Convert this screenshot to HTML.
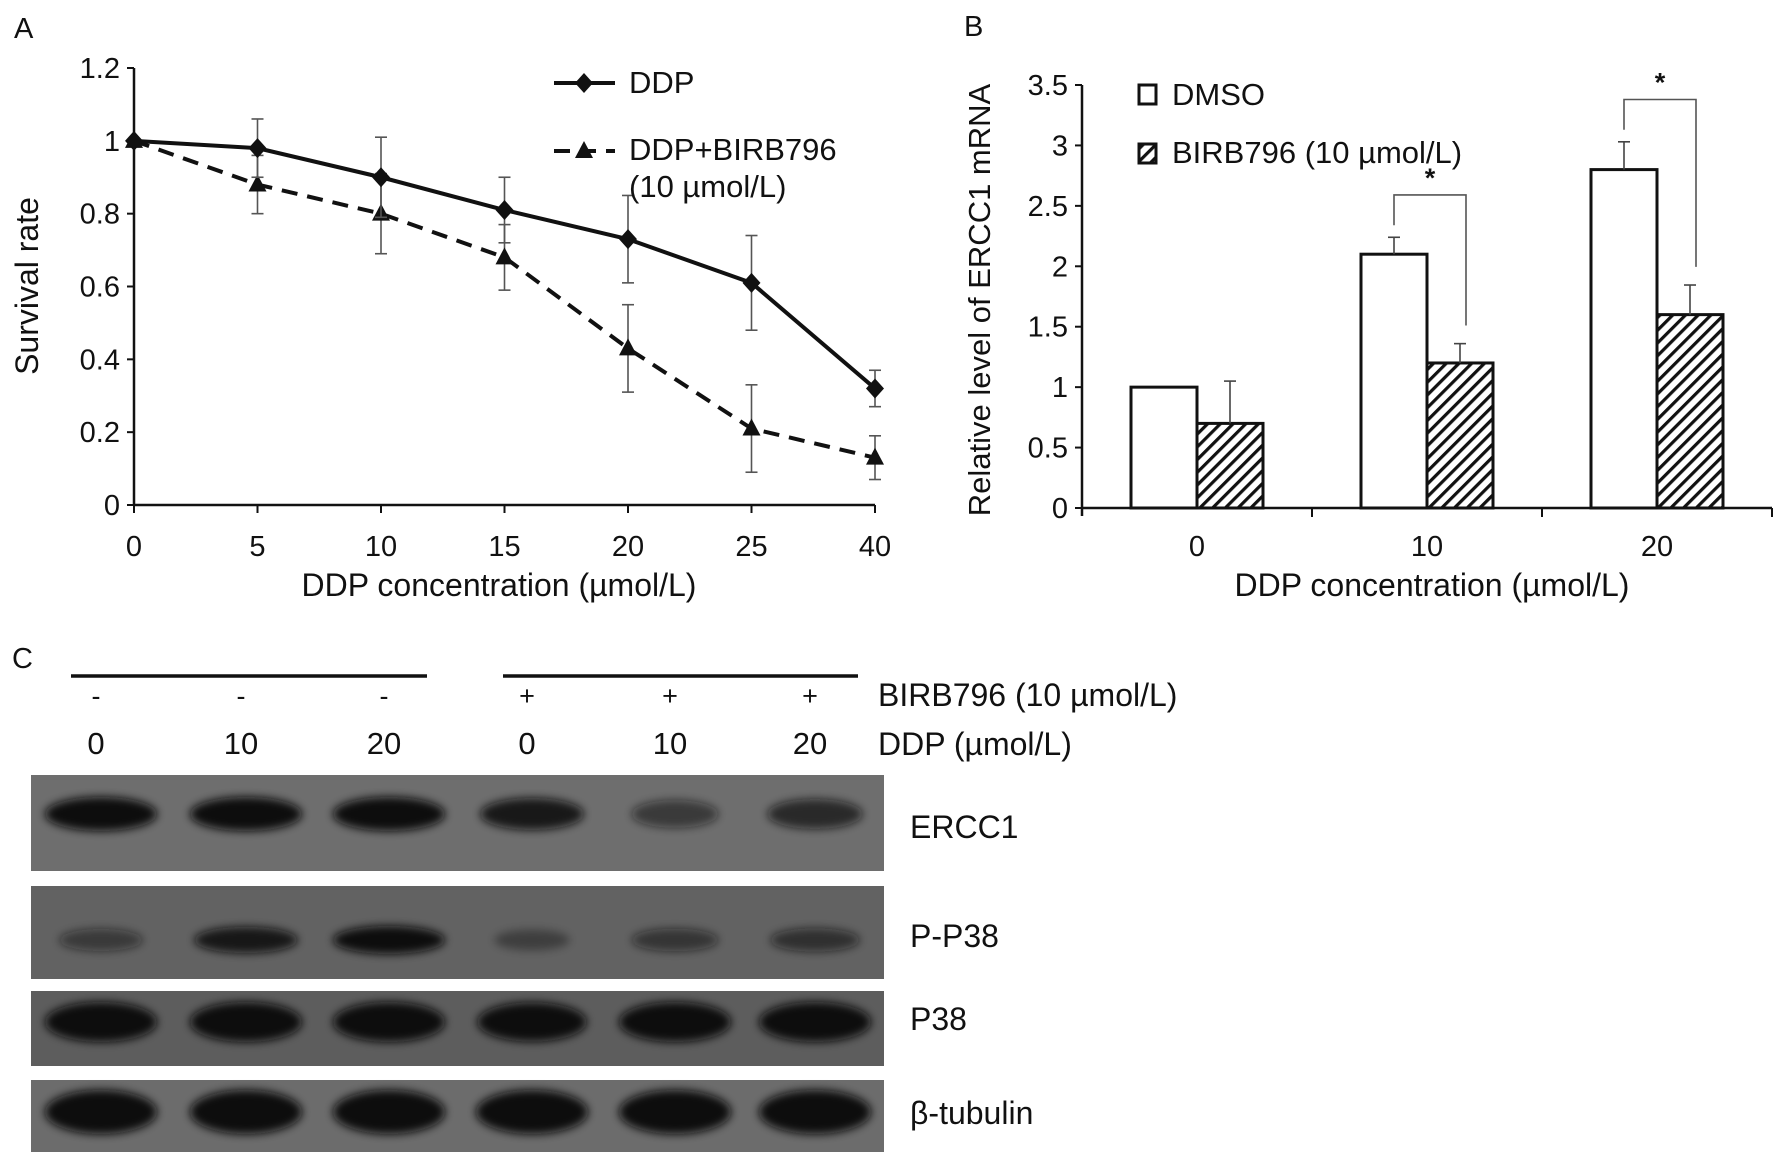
<!DOCTYPE html>
<html><head><meta charset="utf-8"><style>
body{margin:0;background:#fff}
svg{display:block}
text{font-family:"Liberation Sans",sans-serif;fill:#111}
.c text{font-family:"Liberation Sans Narrow","Liberation Sans",sans-serif}
</style></head><body>
<svg id="fig" width="1784" height="1163" viewBox="0 0 1784 1163">
<defs>
<pattern id="hatch" patternUnits="userSpaceOnUse" width="9" height="9" patternTransform="rotate(45)">
<rect width="9" height="9" fill="#fff"/><rect x="0" y="0" width="3.2" height="9" fill="#111"/></pattern>
<filter id="blur" x="-50%" y="-80%" width="200%" height="260%"><feGaussianBlur stdDeviation="4.5"/></filter>
</defs>
<g id="panelA"></g>
<g id="panelB"></g>
<g id="panelC" class="c"></g>
</svg>
<script>
// ---- Panel A data ----
const concA = ["0","5","10","15","20","25","40"];
const ddpVals = [1, 0.98, 0.90, 0.81, 0.73, 0.61, 0.32];
const ddpErr = [0, 0.08, 0.11, 0.09, 0.12, 0.13, 0.05];
const birbVals = [1, 0.88, 0.80, 0.68, 0.43, 0.21, 0.13];
const birbErr = [0, 0.08, 0.11, 0.09, 0.12, 0.12, 0.06];
const yTicksA = [0, 0.2, 0.4, 0.6, 0.8, 1, 1.2];
// ---- Panel B data ----
const concB = ["0","10","20"];
const dmsoVals = [1, 2.1, 2.8];
const dmsoErr = [0, 0.14, 0.23];
const birbBVals = [0.7, 1.2, 1.6];
const birbBErr = [0.35, 0.16, 0.245];
const yTicksB = [0, 0.5, 1, 1.5, 2, 2.5, 3, 3.5];
// ---- Panel C data ----
const laneSigns = ["-","-","-","+","+","+"];
const laneDDP = ["0","10","20","0","10","20"];
const erccInt = [1.0, 1.0, 1.0, 0.85, 0.55, 0.7];
const pp38Int = [0.5, 0.85, 1.0, 0.35, 0.55, 0.6];
const p38Int = [1, 1, 1, 0.95, 1, 1];
const tubInt = [1, 1, 1, 1, 1, 1];

const NS="http://www.w3.org/2000/svg";
function mk(parent, tag, attrs, txt){const e=document.createElementNS(NS,tag);for(const k in attrs)e.setAttribute(k,attrs[k]);if(txt!==undefined)e.textContent=txt;parent.appendChild(e);return e;}

// ================= Panel A =================
const A=document.getElementById('panelA');
const ax0=134, ax1=875, ay0=505, ay1=68;
const xA=i=>ax0+i*(ax1-ax0)/(concA.length-1);
const yA=v=>ay0-(v/1.2)*(ay0-ay1);
let t=mk(A,'text',{x:14,y:38,'font-size':29});t.textContent='A';


let l=mk(A,'line',{x1:ax0,y1:ay1,x2:ax0,y2:ay0,stroke:'#111','stroke-width':2.5});


l=mk(A,'line',{x1:ax0,y1:ay0,x2:ax1,y2:ay0,stroke:'#111','stroke-width':2.5});


yTicksA.forEach(v=>{mk(A,'line',{x1:ax0-7,y1:yA(v),x2:ax0,y2:yA(v),stroke:'#111','stroke-width':2});
 const e=mk(A,'text',{x:ax0-14,y:yA(v)+10,'font-size':29,'text-anchor':'end'},String(v));
 
 });
concA.forEach((c,i)=>{mk(A,'line',{x1:xA(i),y1:ay0,x2:xA(i),y2:ay0+8,stroke:'#111','stroke-width':2});
 const e=mk(A,'text',{x:xA(i),y:556,'font-size':29,'text-anchor':'middle'},c);
 
 });
t=mk(A,'text',{x:499,y:596,'font-size':32,'text-anchor':'middle'},'DDP concentration (µmol/L)');


t=mk(A,'text',{x:0,y:0,'font-size':32,'text-anchor':'middle',transform:'translate(38,286) rotate(-90)'},'Survival rate');


function errs(g,vals,errsArr){vals.forEach((v,i)=>{if(!errsArr[i])return;const x=xA(i);
 mk(g,'line',{x1:x,y1:yA(v-errsArr[i]),x2:x,y2:yA(v+errsArr[i]),stroke:'#555','stroke-width':1.6});
 [v-errsArr[i],v+errsArr[i]].forEach(w=>mk(g,'line',{x1:x-6,y1:yA(w),x2:x+6,y2:yA(w),stroke:'#555','stroke-width':1.6}));});}
const gB=mk(A,'g',{});


errs(gB,birbVals,birbErr);
mk(gB,'polyline',{points:birbVals.map((v,i)=>xA(i)+','+yA(v)).join(' '),fill:'none',stroke:'#111','stroke-width':4,'stroke-dasharray':'16,10'});
birbVals.forEach((v,i)=>{const x=xA(i),y=yA(v);const p=mk(gB,'polygon',{points:`${x},${y-10} ${x-9},${y+7} ${x+9},${y+7}`,fill:'#111'});
 
 });
const gD=mk(A,'g',{});


errs(gD,ddpVals,ddpErr);
mk(gD,'polyline',{points:ddpVals.map((v,i)=>xA(i)+','+yA(v)).join(' '),fill:'none',stroke:'#111','stroke-width':4});
ddpVals.forEach((v,i)=>{const x=xA(i),y=yA(v);const p=mk(gD,'polygon',{points:`${x},${y-10} ${x+9},${y} ${x},${y+10} ${x-9},${y}`,fill:'#111'});
 
 });
// legend
const lg=mk(A,'g',{});


mk(lg,'line',{x1:554,y1:83,x2:615,y2:83,stroke:'#111','stroke-width':4});
mk(lg,'polygon',{points:'584,73 593,83 584,93 575,83',fill:'#111'});
mk(lg,'text',{x:629,y:93,'font-size':31},'DDP');
mk(lg,'line',{x1:554,y1:151,x2:615,y2:151,stroke:'#111','stroke-width':4,'stroke-dasharray':'16,10'});
mk(lg,'polygon',{points:'584,141 575,158 593,158',fill:'#111'});
mk(lg,'text',{x:629,y:160,'font-size':31},'DDP+BIRB796');
mk(lg,'text',{x:629,y:197,'font-size':31},'(10 µmol/L)');

// ================= Panel B =================
const B=document.getElementById('panelB');
const bx0=1082,bx1=1772,by0=508,by1=85;
const yB=v=>by0-(v/3.5)*(by0-by1);
const grpW=(bx1-bx0)/3, bw=66;
const cB=i=>bx0+grpW*(i+0.5);
t=mk(B,'text',{x:964,y:36,'font-size':29},'B');


l=mk(B,'line',{x1:bx0,y1:by1,x2:bx0,y2:by0+8,stroke:'#111','stroke-width':2.5});


l=mk(B,'line',{x1:bx0,y1:by0,x2:bx1,y2:by0,stroke:'#111','stroke-width':2.5});


yTicksB.forEach(v=>{mk(B,'line',{x1:bx0-7,y1:yB(v),x2:bx0,y2:yB(v),stroke:'#111','stroke-width':2});
 const e=mk(B,'text',{x:bx0-14,y:yB(v)+10,'font-size':29,'text-anchor':'end'},String(v));
 
 });
for(let i=1;i<=3;i++)mk(B,'line',{x1:bx0+grpW*i,y1:by0,x2:bx0+grpW*i,y2:by0+9,stroke:'#111','stroke-width':2});
concB.forEach((c,i)=>{const e=mk(B,'text',{x:cB(i),y:556,'font-size':29,'text-anchor':'middle'},c);
 
 });
t=mk(B,'text',{x:1432,y:596,'font-size':32,'text-anchor':'middle'},'DDP concentration (µmol/L)');


t=mk(B,'text',{x:0,y:0,'font-size':31,'text-anchor':'middle',transform:'translate(990,300) rotate(-90)'},'Relative level of ERCC1 mRNA');


function errB(x,v,e){if(!e)return;mk(B,'line',{x1:x,y1:yB(v),x2:x,y2:yB(v+e),stroke:'#444','stroke-width':1.6});mk(B,'line',{x1:x-6,y1:yB(v+e),x2:x+6,y2:yB(v+e),stroke:'#444','stroke-width':1.6});}
dmsoVals.forEach((v,i)=>{const x=cB(i)-bw;
 const r=mk(B,'rect',{x:x,y:yB(v),width:bw,height:by0-yB(v),fill:'#fff',stroke:'#111','stroke-width':3});
 
 
 errB(x+bw/2,v,dmsoErr[i]);});
birbBVals.forEach((v,i)=>{const x=cB(i);
 const r=mk(B,'rect',{x:x,y:yB(v),width:bw,height:by0-yB(v),fill:'url(#hatch)',stroke:'#111','stroke-width':3});
 
 
 errB(x+bw/2,v,birbBErr[i]);});
[1,2].forEach(i=>{const xl=cB(i)-bw/2, xr=cB(i)+bw/2+6;
 const top=Math.max(dmsoVals[i]+dmsoErr[i],birbBVals[i]+birbBErr[i])+0.35;
 const g=mk(B,'g',{});
 
 
 mk(g,'polyline',{points:`${xl},${yB(dmsoVals[i]+dmsoErr[i]+0.1)} ${xl},${yB(top)} ${xr},${yB(top)} ${xr},${yB(birbBVals[i]+birbBErr[i]+0.15)}`,fill:'none',stroke:'#555','stroke-width':1.6});
 mk(g,'text',{x:(xl+xr)/2,y:yB(top)-8,'font-size':27,'font-weight':'bold','text-anchor':'middle'},'*');});
const lgB=mk(B,'g',{});


mk(lgB,'rect',{x:1139,y:85,width:17,height:19,fill:'#fff',stroke:'#111','stroke-width':3});
mk(lgB,'text',{x:1172,y:105,'font-size':31},'DMSO');
mk(lgB,'rect',{x:1139,y:144,width:17,height:19,fill:'url(#hatch)',stroke:'#111','stroke-width':3});
mk(lgB,'text',{x:1172,y:163,'font-size':31},'BIRB796 (10 µmol/L)');

// ================= Panel C =================
const C=document.getElementById('panelC');
const laneX=[101,246,389,532,675,815];
t=mk(C,'text',{x:12,y:668,'font-size':29},'C');


mk(C,'line',{x1:71,y1:676,x2:427,y2:676,stroke:'#111','stroke-width':3.5});
mk(C,'line',{x1:503,y1:676,x2:858,y2:676,stroke:'#111','stroke-width':3.5});
laneSigns.forEach((s,i)=>{const e=mk(C,'text',{x:laneX[i]-5,y:705,'font-size':27,'text-anchor':'middle'},s);
 
 });
laneDDP.forEach((s,i)=>{const e=mk(C,'text',{x:laneX[i]-5,y:754,'font-size':31,'text-anchor':'middle'},s);
 
 });
mk(C,'text',{x:878,y:706,'font-size':32},'BIRB796 (10 µmol/L)');
mk(C,'text',{x:878,y:755,'font-size':32},'DDP (µmol/L)');
const blots=[
 {name:'ERCC1',y0:775,y1:871,by:814,h:34,bg:'#6e6e6e',ints:erccInt,ly:838},
 {name:'P-P38',y0:886,y1:979,by:940,h:28,bg:'#626262',ints:pp38Int,ly:947},
 {name:'P38',y0:991,y1:1066,by:1022,h:40,bg:'#5d5d5d',ints:p38Int,ly:1030},
 {name:'β-tubulin',y0:1080,y1:1152,by:1112,h:44,bg:'#6c6c6c',ints:tubInt,ly:1124}];
blots.forEach(b=>{const g=mk(C,'g',{});
 
 
 mk(g,'rect',{x:31,y:b.y0,width:853,height:b.y1-b.y0,fill:b.bg});
 b.ints.forEach((v,i)=>{const e=mk(g,'ellipse',{cx:laneX[i],cy:b.by,rx:56*(0.5+0.5*v),ry:b.h/2*(0.6+0.4*v),fill:'#0e0e0e','fill-opacity':Math.min(1,v*1.05),filter:'url(#blur)'});
  
  });
 mk(g,'text',{x:910,y:b.ly,'font-size':32},b.name);});
</script>
</body></html>
